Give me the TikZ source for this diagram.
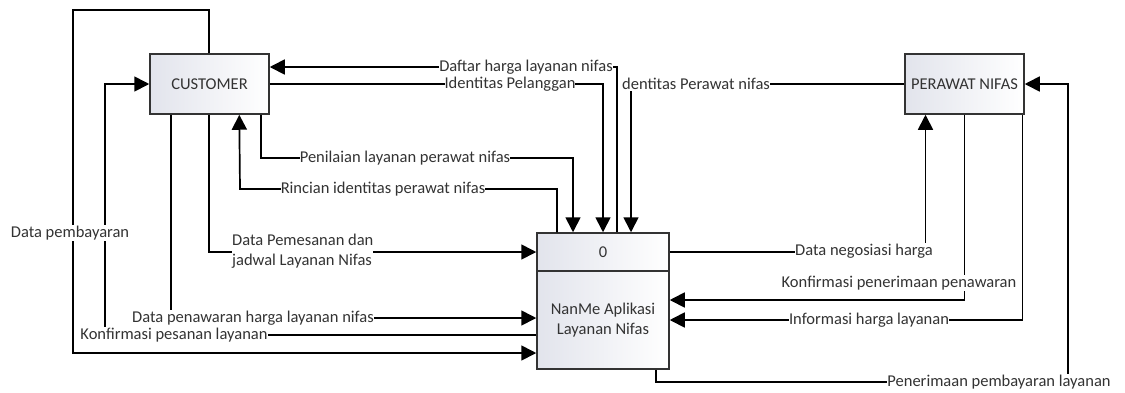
\documentclass[tikz,border=0pt]{standalone}
\usepackage{fontspec}
\setmainfont{Carlito}
\usetikzlibrary{arrows.meta}
\definecolor{boxgray}{HTML}{E2E4EC}
\definecolor{ink}{HTML}{333333}
\begin{document}
\begin{tikzpicture}[x=1pt,y=-1pt, font=\fontsize{16.5}{20}\selectfont, text=ink,
  entity/.style={draw=ink, line width=1.5pt, left color=boxgray, right color=white,
                 minimum width=119pt, minimum height=60pt, inner sep=0pt},
  flow/.style={line width=1.7pt, draw=black},
  arr/.style={flow, -{Triangle[length=15pt,width=15pt]}},
  lbl/.style={fill=white, inner xsep=0pt, inner ysep=1pt}]
\useasboundingbox (0,0) rectangle (1125,392);
% entities and process
\node[entity] (cust) at (209.5,84) {CUSTOMER};
\node[entity] (nurse) at (964.5,84) {PERAWAT NIFAS};
\node[entity, minimum width=132pt, minimum height=38pt] (p0) at (603,252) {0};
\node[entity, minimum width=132pt, minimum height=98pt, align=center] (proc) at (603,320) {NanMe Aplikasi\\Layanan Nifas};
% flows
\draw[arr] ([xshift=60pt]cust.north west) |- (73,10) |- ([yshift=-33pt]proc.west);
\draw[arr] ([yshift=-15pt]proc.west) -| (105,84) -- (cust.west);
\draw[arr] ([xshift=22pt]cust.south west) |- ([yshift=2pt]proc.west);
\draw[arr] ([xshift=60pt]cust.south west) |- (p0.west);
\draw[arr] ([xshift=112pt]cust.south west) |- (573,158) -- ([xshift=-30pt]p0.north);
\draw[arr] ([xshift=-46pt]p0.north) |- (240,189) -- ([xshift=90pt]cust.south west);
\draw[arr] ([xshift=14pt]p0.north) |- ([yshift=17pt]cust.east);
\draw[arr] (cust.east) -| (p0.north);
\draw[arr] (nurse.west) -| ([xshift=28pt]p0.north);
\draw[arr] (p0.east) -| ([xshift=-39pt]nurse.south);
\draw[arr] (nurse.south) |- ([yshift=20pt]proc.east);
\draw[arr] ([xshift=58pt]nurse.south) |- (proc.east);
\draw[arr] ([xshift=53pt]proc.south) |- (1068,382) |- (nurse.east);
% labels
\node[lbl] (l1) at (70,233) {Data pembayaran};
\node[lbl] (l2) at (174,335) {Konfirmasi pesanan layanan};
\node[lbl] (l3) at (253,318) {Data penawaran harga layanan nifas};
\node[lbl, align=left, anchor=west] (l4) at (232,251) {Data Pemesanan dan\\jadwal Layanan Nifas};
\node[lbl] (l5) at (405,158) {Penilaian layanan perawat nifas};
\node[lbl] (l6) at (383,189) {Rincian identitas perawat nifas};
\node[lbl] (l7) at (526,67) {Daftar harga layanan nifas};
\node[lbl] (l8) at (510,84) {Identitas Pelanggan};
\node[lbl] (l9) at (696,84) {dentitas Perawat nifas};
\node[lbl] (l10) at (864,251) {Data negosiasi harga};
\node[lbl] (l11) at (899,283) {Konfirmasi penerimaan penawaran};
\node[lbl] (l12) at (869,320) {Informasi harga layanan};
\node[lbl] (l13) at (999,382) {Penerimaan pembayaran layanan};
\end{tikzpicture}
\end{document}
